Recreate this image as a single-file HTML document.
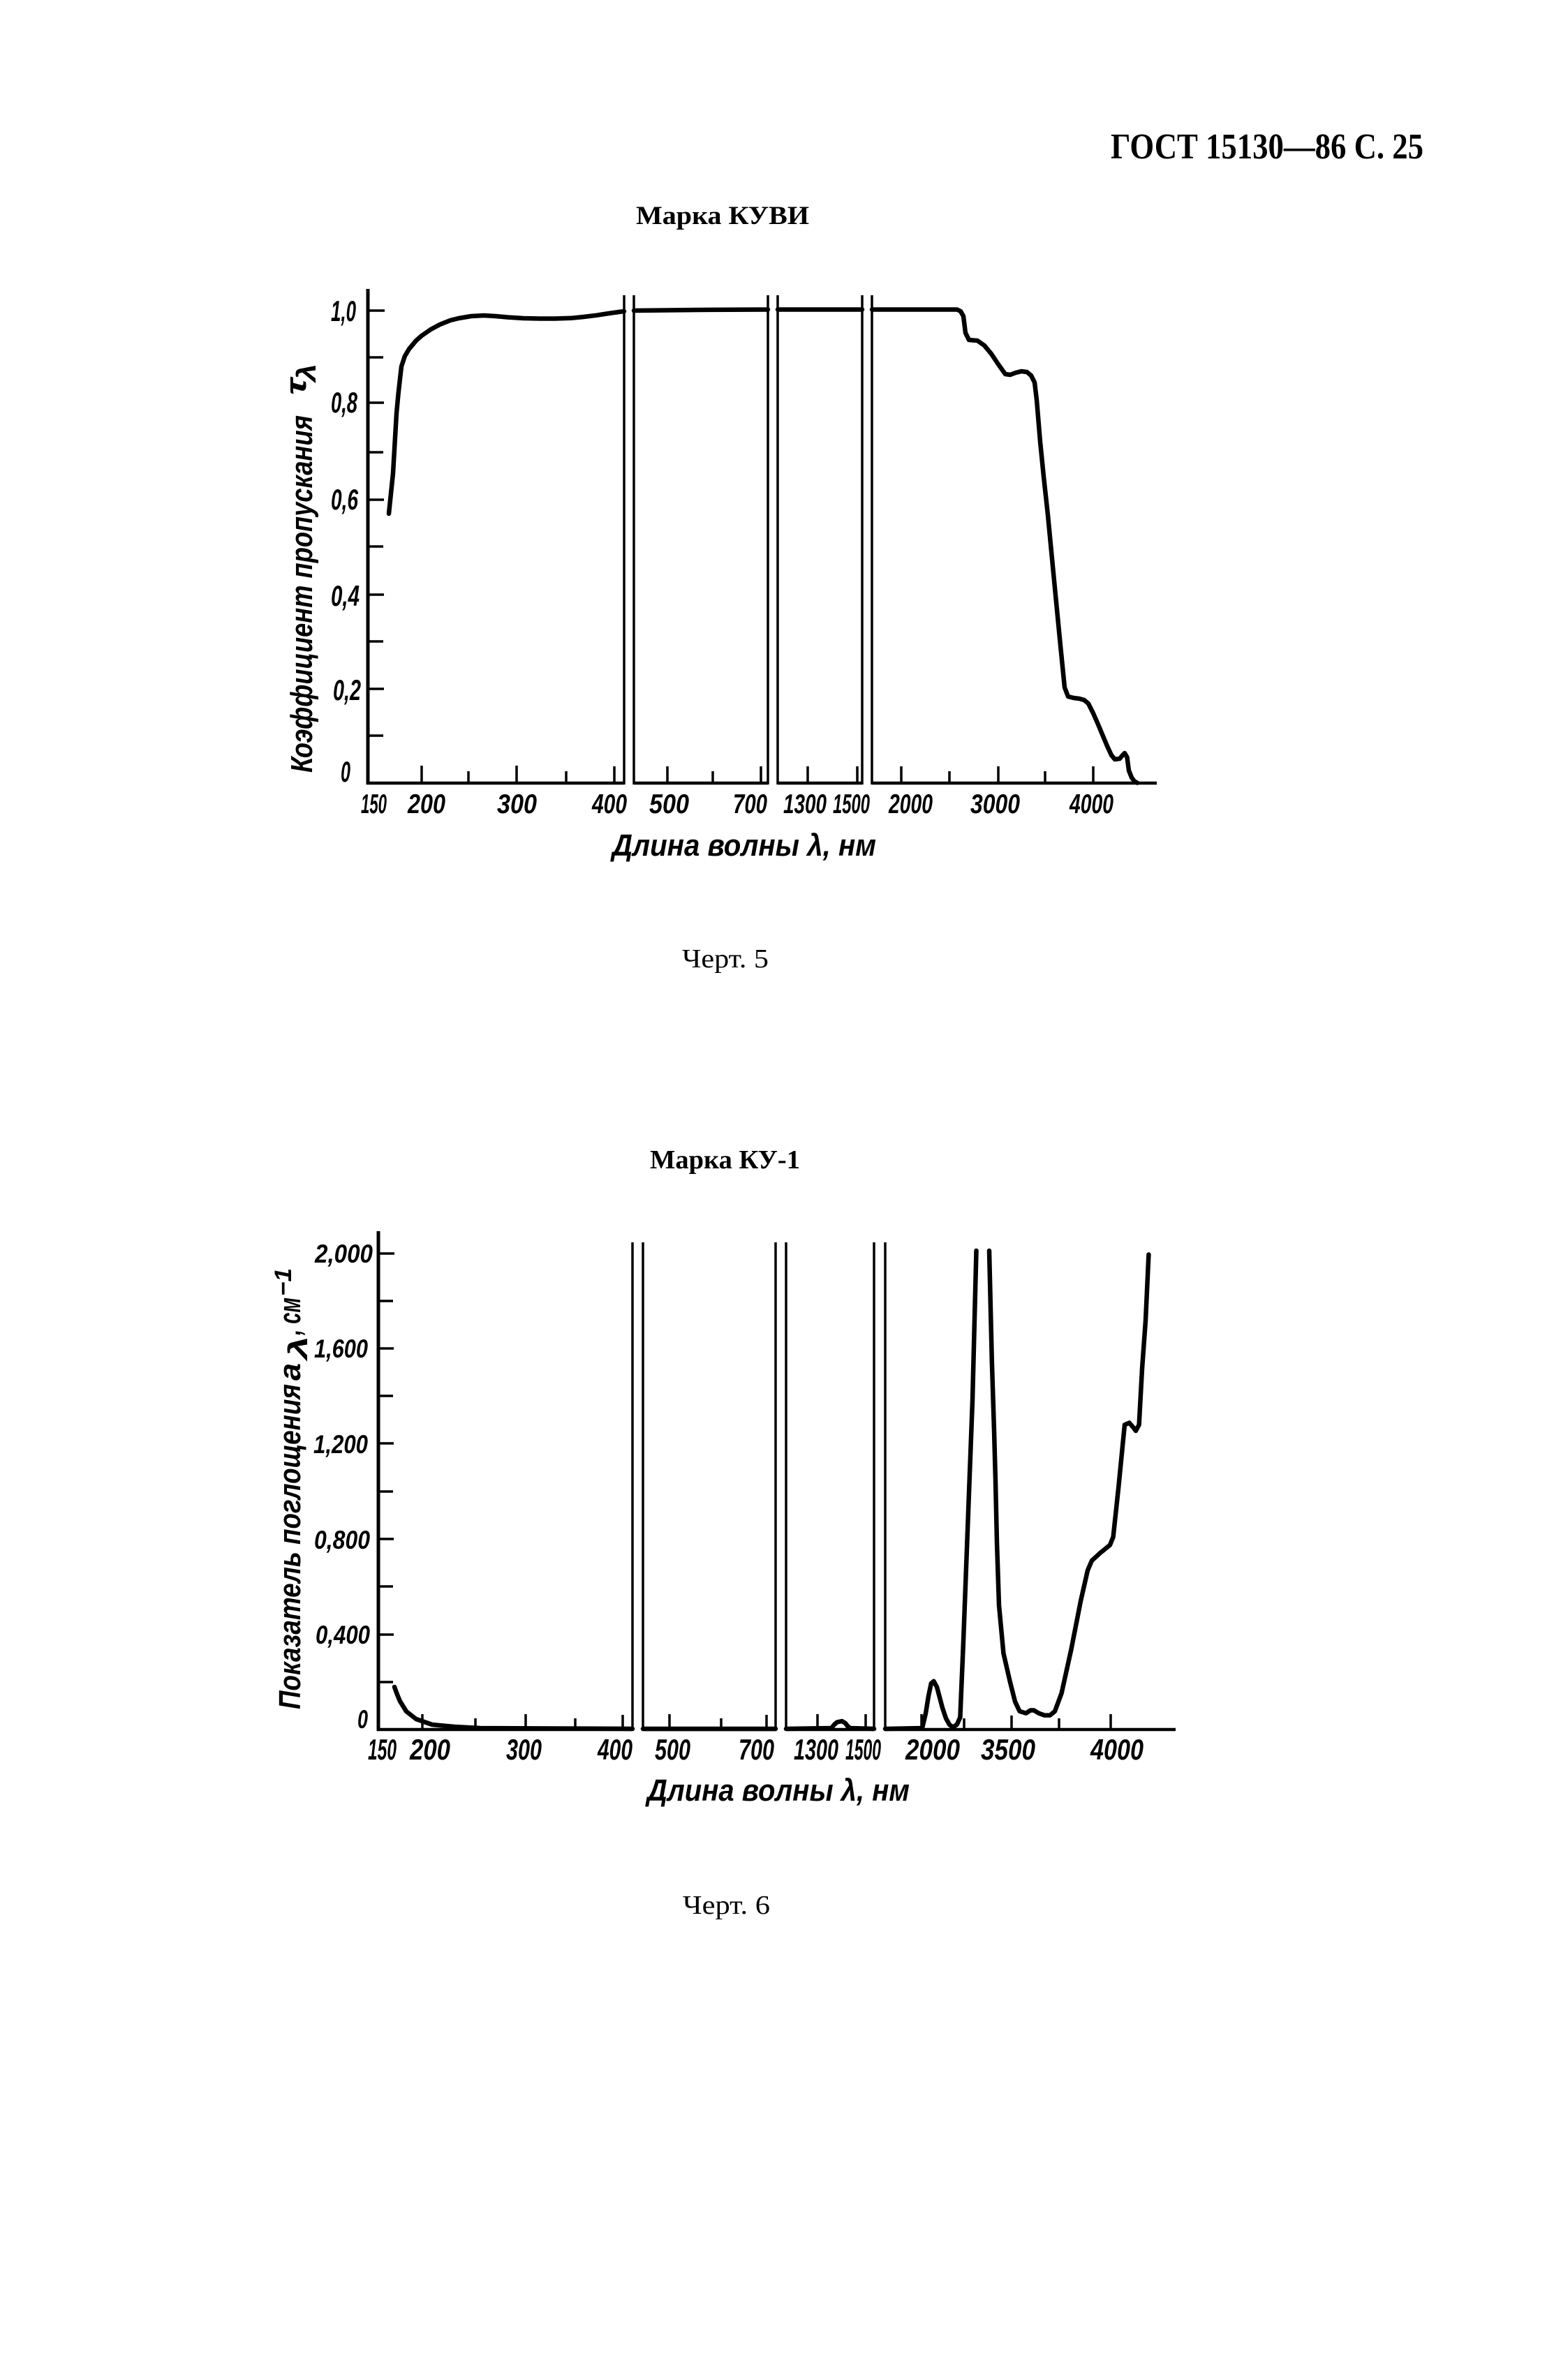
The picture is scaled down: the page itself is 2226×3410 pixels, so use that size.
<!DOCTYPE html>
<html><head><meta charset="utf-8"><style>
html,body{margin:0;padding:0;background:#fff;}
svg{display:block;}
.t{font-family:"Liberation Sans","DejaVu Sans",sans-serif;font-style:italic;font-weight:bold;fill:#000;}
.s{font-family:"Liberation Serif","DejaVu Serif",serif;fill:#000;}
</style></head><body>
<svg width="2226" height="3410" viewBox="0 0 2226 3410" xmlns="http://www.w3.org/2000/svg">
<rect width="2226" height="3410" fill="#fff"/>
<text class="s" x="1591" y="227" font-size="52" font-weight="bold" textLength="448" lengthAdjust="spacingAndGlyphs">ГОСТ 15130—86 С. 25</text>
<text class="s" x="911" y="321" font-size="37" font-weight="bold" textLength="248" lengthAdjust="spacingAndGlyphs">Марка КУВИ</text>
<text class="s" x="977" y="1386" font-size="38" textLength="124" lengthAdjust="spacingAndGlyphs">Черт. 5</text>
<g stroke="#000" fill="none" stroke-linecap="butt">
<line x1="527" y1="414" x2="527" y2="1124" stroke-width="5"/>
<g stroke-width="4.5">
<line x1="525" y1="1122" x2="894" y2="1122"/>
<line x1="908" y1="1122" x2="1100" y2="1122"/>
<line x1="1114" y1="1122" x2="1235" y2="1122"/>
<line x1="1249" y1="1122" x2="1657" y2="1122"/>
</g>
<g stroke-width="3.5">
<line x1="894" y1="423" x2="894" y2="1124"/>
<line x1="908" y1="423" x2="908" y2="1124"/>
<line x1="1100" y1="423" x2="1100" y2="1124"/>
<line x1="1114" y1="423" x2="1114" y2="1124"/>
<line x1="1235" y1="423" x2="1235" y2="1124"/>
<line x1="1249" y1="423" x2="1249" y2="1124"/>
</g>
<g stroke-width="3.5">
<line x1="527" y1="1054" x2="549" y2="1054"/>
<line x1="527" y1="987" x2="550" y2="987"/>
<line x1="527" y1="919" x2="549" y2="919"/>
<line x1="527" y1="852" x2="550" y2="852"/>
<line x1="527" y1="783" x2="549" y2="783"/>
<line x1="527" y1="716" x2="550" y2="716"/>
<line x1="527" y1="648" x2="549" y2="648"/>
<line x1="527" y1="577" x2="550" y2="577"/>
<line x1="527" y1="512" x2="549" y2="512"/>
<line x1="527" y1="445" x2="551" y2="445"/>
<line x1="604" y1="1122" x2="604" y2="1097"/>
<line x1="671" y1="1122" x2="671" y2="1105"/>
<line x1="740" y1="1122" x2="740" y2="1097"/>
<line x1="811" y1="1122" x2="811" y2="1105"/>
<line x1="880" y1="1122" x2="880" y2="1098"/>
<line x1="956" y1="1122" x2="956" y2="1098"/>
<line x1="1021" y1="1122" x2="1021" y2="1105"/>
<line x1="1090" y1="1122" x2="1090" y2="1098"/>
<line x1="1157" y1="1122" x2="1157" y2="1098"/>
<line x1="1228" y1="1122" x2="1228" y2="1098"/>
<line x1="1291" y1="1122" x2="1291" y2="1098"/>
<line x1="1360" y1="1122" x2="1360" y2="1105"/>
<line x1="1430" y1="1122" x2="1430" y2="1098"/>
<line x1="1497" y1="1122" x2="1497" y2="1105"/>
<line x1="1566" y1="1122" x2="1566" y2="1098"/>
</g>
<g stroke-width="6.5" stroke-linejoin="round" stroke-linecap="round">
<path d="M557,736 L563,678 L568,592 L570.6,564 L575,525 L580,510 L586,500 L596,488 L604,481 L617,472 L630,465 L645,459 L657,456 L675,453 L693,452 L710,453 L728,454.6 L750,456 L773,456.5 L795,456.5 L818,455.8 L836,454 L854,451.8 L872,449 L889,446.6 L894,446"/>
<path d="M908,445 L1000,444 L1100,443.5"/>
<path d="M1114,443.5 L1235,443.5"/>
<path d="M1249,443.5 L1371,443.5 L1376,446 L1380,453 L1383,477 L1388,487 L1400,488 L1410,495 L1420,507 L1430,522 L1440,536 L1447,537 L1455,534 L1463,532 L1471,533 L1477,538 L1482,548 L1485,573 L1490,633 L1495,683 L1501,738 L1510,832 L1519,925 L1525,985 L1530,998 L1538,1000 L1546,1001 L1553,1003 L1559,1008 L1566,1022 L1573,1038 L1586,1069 L1592,1082 L1597,1088 L1604,1087 L1608,1082 L1611,1079 L1614.5,1085 L1617,1104 L1621,1114 L1625,1119.5 L1629,1121.6"/>
</g>
</g>
<g class="t" font-size="42">
<text x="510" y="460" text-anchor="end" textLength="36" lengthAdjust="spacingAndGlyphs">1,0</text>
<text x="512" y="591" text-anchor="end" textLength="38" lengthAdjust="spacingAndGlyphs">0,8</text>
<text x="513" y="730" text-anchor="end" textLength="39" lengthAdjust="spacingAndGlyphs">0,6</text>
<text x="515" y="868" text-anchor="end" textLength="41" lengthAdjust="spacingAndGlyphs">0,4</text>
<text x="517" y="1003" text-anchor="end" textLength="40" lengthAdjust="spacingAndGlyphs">0,2</text>
<text x="502" y="1120" text-anchor="end" textLength="14" lengthAdjust="spacingAndGlyphs">0</text>
</g>
<g class="t" font-size="39">
<text x="517" y="1165" textLength="37" lengthAdjust="spacingAndGlyphs">150</text>
<text x="584" y="1165" textLength="54" lengthAdjust="spacingAndGlyphs">200</text>
<text x="712" y="1165" textLength="57" lengthAdjust="spacingAndGlyphs">300</text>
<text x="848" y="1165" textLength="50" lengthAdjust="spacingAndGlyphs">400</text>
<text x="930" y="1165" textLength="57" lengthAdjust="spacingAndGlyphs">500</text>
<text x="1050" y="1165" textLength="49" lengthAdjust="spacingAndGlyphs">700</text>
<text x="1122" y="1165" textLength="62" lengthAdjust="spacingAndGlyphs">1300</text>
<text x="1193" y="1165" textLength="53" lengthAdjust="spacingAndGlyphs">1500</text>
<text x="1273" y="1165" textLength="63" lengthAdjust="spacingAndGlyphs">2000</text>
<text x="1390" y="1165" textLength="71" lengthAdjust="spacingAndGlyphs">3000</text>
<text x="1532" y="1165" textLength="63" lengthAdjust="spacingAndGlyphs">4000</text>
</g>
<text class="t" x="877" y="1226" font-size="44" textLength="378" lengthAdjust="spacingAndGlyphs">Длина волны λ, нм</text>
<g class="t" font-size="44">
<text transform="translate(447,1107) rotate(-90)" textLength="512" lengthAdjust="spacingAndGlyphs">Коэффициент пропускания</text>
<text transform="translate(438,566) rotate(-90)" font-size="42" textLength="24" lengthAdjust="spacingAndGlyphs">τ</text>
<text transform="translate(452,547) rotate(-90)" font-size="38" textLength="26" lengthAdjust="spacingAndGlyphs">λ</text>
</g>

<text class="s" x="931" y="1674" font-size="38" font-weight="bold" textLength="215" lengthAdjust="spacingAndGlyphs">Марка КУ-1</text>
<text class="s" x="978" y="2742" font-size="38" textLength="125" lengthAdjust="spacingAndGlyphs">Черт. 6</text>
<g stroke="#000" fill="none" stroke-linecap="butt">
<line x1="542" y1="1764" x2="542" y2="2480" stroke-width="5"/>
<g stroke-width="4.5">
<line x1="540" y1="2478" x2="906" y2="2478"/>
<line x1="921" y1="2478" x2="1111" y2="2478"/>
<line x1="1126" y1="2478" x2="1252" y2="2478"/>
<line x1="1268" y1="2478" x2="1684" y2="2478"/>
</g>
<g stroke-width="3.5">
<line x1="906" y1="1780" x2="906" y2="2480"/>
<line x1="921" y1="1780" x2="921" y2="2480"/>
<line x1="1111" y1="1780" x2="1111" y2="2480"/>
<line x1="1126" y1="1780" x2="1126" y2="2480"/>
<line x1="1252" y1="1780" x2="1252" y2="2480"/>
<line x1="1268" y1="2480" x2="1268" y2="1780"/>
</g>
<g stroke-width="3.5">
<line x1="542" y1="2410" x2="563" y2="2410"/>
<line x1="542" y1="2342" x2="564" y2="2342"/>
<line x1="542" y1="2273" x2="563" y2="2273"/>
<line x1="542" y1="2205" x2="564" y2="2205"/>
<line x1="542" y1="2137" x2="563" y2="2137"/>
<line x1="542" y1="2068" x2="564" y2="2068"/>
<line x1="542" y1="2000" x2="563" y2="2000"/>
<line x1="542" y1="1932" x2="564" y2="1932"/>
<line x1="542" y1="1864" x2="563" y2="1864"/>
<line x1="542" y1="1796" x2="565" y2="1796"/>
<line x1="605" y1="2478" x2="605" y2="2456"/>
<line x1="681" y1="2478" x2="681" y2="2462"/>
<line x1="753" y1="2478" x2="753" y2="2456"/>
<line x1="824" y1="2478" x2="824" y2="2462"/>
<line x1="892" y1="2478" x2="892" y2="2457"/>
<line x1="959" y1="2478" x2="959" y2="2456"/>
<line x1="1033" y1="2478" x2="1033" y2="2462"/>
<line x1="1098" y1="2478" x2="1098" y2="2457"/>
<line x1="1171" y1="2478" x2="1171" y2="2456"/>
<line x1="1240" y1="2478" x2="1240" y2="2456"/>
<line x1="1320" y1="2478" x2="1320" y2="2456"/>
<line x1="1381" y1="2478" x2="1381" y2="2462"/>
<line x1="1449" y1="2478" x2="1449" y2="2458"/>
<line x1="1517" y1="2478" x2="1517" y2="2462"/>
<line x1="1591" y1="2478" x2="1591" y2="2456"/>
</g>
<g stroke-width="6.5" stroke-linejoin="round" stroke-linecap="round">
<path d="M565,2417 L569,2428 L573,2437.5 L582,2452 L596,2463 L619,2471 L651,2474 L688,2476 L906,2477"/>
<path d="M921,2477 L1111,2477"/>
<path d="M1126,2477 L1191,2476 L1195,2471 L1199,2467.5 L1206,2466 L1211,2469 L1214,2473 L1218,2476 L1252,2477"/>
<path d="M1268,2477 L1321,2476 L1326,2455 L1330,2430 L1333.8,2412 L1337.5,2408.8 L1342,2417 L1346,2432 L1350,2447 L1355,2462 L1360,2471 L1365,2474.8 L1370.8,2470.8 L1375.4,2460.5 L1380,2351 L1386.5,2179 L1393,2007 L1398.5,1792"/>
<path d="M1417,1792 L1420.8,1950 L1424,2050 L1426,2122 L1428,2210 L1431,2300 L1437.4,2368.6 L1446.6,2408.8 L1454,2438 L1460.5,2451.8 L1469.7,2454.7 L1476,2450.5 L1481,2450.5 L1488,2454.7 L1496,2457.6 L1504,2457.6 L1511,2451.9 L1520.6,2426 L1534.5,2363 L1548,2294 L1558,2250 L1564,2236 L1576,2225 L1590,2213.6 L1594.6,2202 L1602,2133 L1611,2041.4 L1617.7,2038.6 L1624,2046 L1627,2050 L1631.6,2041.4 L1636,1961 L1641,1892 L1645.4,1797.5"/>
</g>
</g>
<g class="t" font-size="37">
<text x="534" y="1809" text-anchor="end" textLength="83" lengthAdjust="spacingAndGlyphs">2,000</text>
<text x="527" y="1945" text-anchor="end" textLength="77" lengthAdjust="spacingAndGlyphs">1,600</text>
<text x="527" y="2082" text-anchor="end" textLength="78" lengthAdjust="spacingAndGlyphs">1,200</text>
<text x="530" y="2219" text-anchor="end" textLength="80" lengthAdjust="spacingAndGlyphs">0,800</text>
<text x="530" y="2355" text-anchor="end" textLength="78" lengthAdjust="spacingAndGlyphs">0,400</text>
<text x="527" y="2476" text-anchor="end" textLength="15" lengthAdjust="spacingAndGlyphs">0</text>
</g>
<g class="t" font-size="42">
<text x="527" y="2521" textLength="41" lengthAdjust="spacingAndGlyphs">150</text>
<text x="587" y="2521" textLength="58" lengthAdjust="spacingAndGlyphs">200</text>
<text x="725" y="2521" textLength="51" lengthAdjust="spacingAndGlyphs">300</text>
<text x="856" y="2521" textLength="50" lengthAdjust="spacingAndGlyphs">400</text>
<text x="938" y="2521" textLength="51" lengthAdjust="spacingAndGlyphs">500</text>
<text x="1058" y="2521" textLength="51" lengthAdjust="spacingAndGlyphs">700</text>
<text x="1137" y="2521" textLength="64" lengthAdjust="spacingAndGlyphs">1300</text>
<text x="1211" y="2521" textLength="51" lengthAdjust="spacingAndGlyphs">1500</text>
<text x="1297" y="2521" textLength="78" lengthAdjust="spacingAndGlyphs">2000</text>
<text x="1405" y="2521" textLength="78" lengthAdjust="spacingAndGlyphs">3500</text>
<text x="1562" y="2521" textLength="76" lengthAdjust="spacingAndGlyphs">4000</text>
</g>
<text class="t" x="927" y="2580" font-size="44" textLength="376" lengthAdjust="spacingAndGlyphs">Длина волны λ, нм</text>
<g class="t" font-size="44">
<text transform="translate(430,2449) rotate(-90)" textLength="466" lengthAdjust="spacingAndGlyphs">Показатель поглощения</text>
<text transform="translate(430,1978) rotate(-90)" textLength="25" lengthAdjust="spacingAndGlyphs">a</text>
<text transform="translate(440,1948) rotate(-90)" font-size="38" textLength="34" lengthAdjust="spacingAndGlyphs">λ</text>
<text transform="translate(430,1913) rotate(-90)" textLength="54" lengthAdjust="spacingAndGlyphs">, см</text>
<text transform="translate(417,1857) rotate(-90)" font-size="34" textLength="40" lengthAdjust="spacingAndGlyphs">−1</text>
</g>
</svg>
</body></html>
